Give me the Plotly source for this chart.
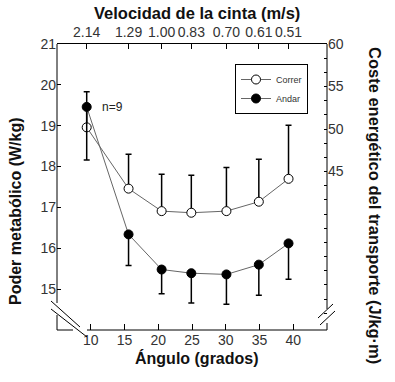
import plotly.graph_objects as go

# ---- data ----
angles = [9.4, 15.6, 20.5, 24.9, 30.1, 34.9, 39.3]
velocity_labels = ["2.14", "1.29", "1.00", "0.83", "0.70", "0.61", "0.51"]
correr = [18.96, 17.46, 16.91, 16.87, 16.91, 17.14, 17.70]
correr_err_up = [0.87, 0.84, 0.90, 0.92, 1.07, 1.04, 1.31]
andar = [19.46, 16.34, 15.48, 15.39, 15.36, 15.60, 16.12]
andar_err_down = [1.30, 0.76, 0.59, 0.73, 0.73, 0.75, 0.88]
left_ticks = [15, 16, 17, 18, 19, 20, 21]
bottom_ticks = [10, 15, 20, 25, 30, 35, 40]
right_labels = [60, 55, 50, 45]

W, H = 395, 382
L, R, T, B = 57, 327, 44, 330  # plot area in px
def px(x): return (x - L) / (R - L)
def py(y): return (B - y) / (B - T)

tick_font = dict(family="Liberation Sans, Arial", size=14, color="#333")
def tfont(s): return dict(family="Liberation Sans, Arial", size=s, color="#111")

fig = go.Figure()
fig.add_trace(go.Scatter(
    x=angles, y=correr, name="Correr", mode="lines+markers",
    line=dict(color="#666", width=1),
    marker=dict(symbol="circle", size=9, color="white", line=dict(color="black", width=1)),
    error_y=dict(type="data", symmetric=False, array=correr_err_up,
                 arrayminus=[0] * len(correr), color="black", thickness=1.5, width=3),
))
fig.add_trace(go.Scatter(
    x=angles, y=andar, name="Andar", mode="lines+markers",
    line=dict(color="#666", width=1),
    marker=dict(symbol="circle", size=9, color="black", line=dict(color="black", width=1)),
    error_y=dict(type="data", symmetric=False, array=[0] * len(andar),
                 arrayminus=andar_err_down, color="black", thickness=1.5, width=3),
))
# empty trace so the secondary (top / right) axes are drawn
fig.add_trace(go.Scatter(x=[], y=[], xaxis="x2", yaxis="y2", showlegend=False,
                         hoverinfo="skip", mode="markers"))

# right axis ticks every 5/3 units
rt_vals = [60 - 5 / 3 * k for k in range(20)]
rt_text = [str(int(round(v))) if any(abs(v - r) < 1e-6 for r in right_labels) else "" for v in rt_vals]

fig.update_layout(
    width=W, height=H,
    margin=dict(l=L, r=W - R, t=T, b=H - B, autoexpand=False),
    paper_bgcolor="white", plot_bgcolor="white",
    showlegend=True,
    legend=dict(x=px(235), y=py(64), xanchor="left", yanchor="top",
                bordercolor="black", borderwidth=1, bgcolor="white",
                font=dict(family="Liberation Sans, Arial", size=9, color="#333"),
                tracegroupgap=0, itemwidth=30),
    xaxis=dict(range=[5, 45], tickvals=bottom_ticks, ticks="inside", ticklen=6,
               tickcolor="black", showgrid=False, zeroline=False, showline=False,
               tickfont=tick_font, automargin=False),
    xaxis2=dict(range=[5, 45], overlaying="x", side="top", anchor="y", tickvals=angles,
                ticktext=velocity_labels, ticks="inside", ticklen=5, tickcolor="black",
                showgrid=False, zeroline=False, showline=True, linecolor="black",
                tickfont=tick_font, automargin=False),
    yaxis=dict(range=[14, 21], tickvals=left_ticks, ticks="inside", ticklen=4,
               tickcolor="black", showgrid=False, zeroline=False, showline=False,
               tickfont=tick_font, automargin=False),
    yaxis2=dict(range=[60 - (B - T) / 8.5, 60], overlaying="y", side="right", anchor="x",
                tickvals=rt_vals, ticktext=rt_text, ticks="inside", ticklen=3,
                tickcolor="black", showgrid=False, zeroline=False, showline=False,
                tickfont=tick_font, automargin=False),
)

line = dict(color="black", width=1)
shapes = [
    # left axis with break
    dict(x0=px(57), x1=px(57), y0=py(44), y1=py(303)),
    dict(x0=px(57), x1=px(57), y0=py(315), y1=py(330)),
    # bottom axis with break
    dict(x0=px(57), x1=px(73), y0=py(330), y1=py(330)),
    dict(x0=px(87), x1=px(327), y0=py(330), y1=py(330)),
    # right axis with break
    dict(x0=px(327), x1=px(327), y0=py(44), y1=py(309)),
    dict(x0=px(327), x1=px(327), y0=py(323), y1=py(330)),
    # break marks left-bottom
    dict(x0=px(51), x1=px(80), y0=py(301), y1=py(327)),
    dict(x0=px(51), x1=px(87), y0=py(309), y1=py(337)),
    # break marks right
    dict(x0=px(318), x1=px(333), y0=py(318), y1=py(304)),
    dict(x0=px(320), x1=px(335), y0=py(325), y1=py(311)),
]
for s in shapes:
    fig.add_shape(type="line", xref="paper", yref="paper", line=line, **s)

ann = dict(xref="paper", yref="paper", showarrow=False, xanchor="center", yanchor="middle")
fig.add_annotation(text="n=9", x=11.4, y=19.46, xref="x", yref="y", xanchor="left",
                   showarrow=False, font=dict(family="Liberation Sans, Arial", size=12, color="#222"))
fig.add_annotation(text="<b>Velocidad de la cinta (m/s)</b>", x=px(197), y=py(13),
                   font=tfont(16.5), **ann)
fig.add_annotation(text="<b>Ángulo (grados)</b>", x=px(197), y=py(358),
                   font=tfont(16), **ann)
fig.add_annotation(text="<b>Poder metabólico (W/kg)</b>", x=px(15), y=py(211), textangle=-90,
                   font=tfont(16), **ann)
fig.add_annotation(text="<b>Coste energético del transporte (J/kg·m)</b>", x=px(375), y=py(205),
                   textangle=90, font=tfont(16.5), **ann)

fig.write_html("out.html", config={"displayModeBar": False},
               post_script="document.body.style.margin='0';document.body.style.overflow='hidden';")
